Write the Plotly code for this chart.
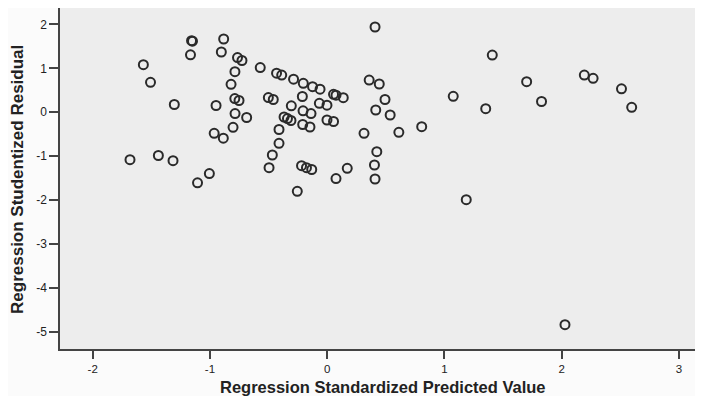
import plotly.graph_objects as go

# Regression Standardized Predicted Value (x) vs Studentized Residual (y)
pred_values = [
    -1.682, -1.568, -1.507, -1.440, -1.315, -1.304, -1.157, -1.149, -1.166, -1.106,
    -1.005, -0.948, -0.964, -0.886, -0.883, -0.903, -0.765, -0.727, -0.787, -0.820,
    -0.788, -0.752, -0.786, -0.687, -0.803, -0.571, -0.432, -0.388, -0.287, -0.204,
    -0.125, -0.061, -0.212, -0.502, -0.460, -0.306, -0.206, -0.138, -0.067, -0.002,
    0.054, 0.075, 0.137, -0.368, -0.339, -0.309, -0.002, 0.054, -0.209, -0.147,
    -0.411, -0.411, -0.468, -0.496, -0.219, -0.177, -0.132, 0.075, 0.171, -0.255,
    0.408, 1.408, 0.358, 0.444, 0.493, 0.414, 0.537, 0.314, 0.611, 0.806,
    0.423, 0.403, 0.408, 1.075, 1.352, 1.701, 1.828, 2.193, 2.268, 2.510,
    2.597, 1.186, 2.028,
]
resid_values = [
    -1.083, 1.083, 0.682, -0.987, -1.106, 0.176, 1.630, 1.619, 1.309, -1.610,
    -1.398, 0.153, -0.481, -0.593, 1.669, 1.373, 1.247, 1.179, 0.923, 0.636,
    0.312, 0.267, -0.030, -0.121, -0.344, 1.019, 0.889, 0.848, 0.752, 0.659,
    0.581, 0.524, 0.358, 0.335, 0.290, 0.146, 0.032, -0.030, 0.203, 0.160,
    0.408, 0.388, 0.331, -0.109, -0.144, -0.189, -0.178, -0.212, -0.280, -0.337,
    -0.394, -0.709, -0.976, -1.265, -1.220, -1.265, -1.306, -1.512, -1.279, -1.803,
    1.943, 1.304, 0.734, 0.643, 0.290, 0.050, -0.064, -0.481, -0.458, -0.331,
    -0.901, -1.204, -1.523, 0.363, 0.080, 0.695, 0.244, 0.848, 0.773, 0.534,
    0.112, -1.995, -4.845,
]

x_ticks = [-2, -1, 0, 1, 2, 3]
x_tick_labels = ["-2", "-1", "0", "1", "2", "3"]
y_ticks = [-5, -4, -3, -2, -1, 0, 1, 2]
y_tick_labels = ["-5", "-4", "-3", "-2", "-1", "0", "1", "2"]

x_title = "Regression Standardized Predicted Value"
y_title = "Regression Studentized Residual"

fig = go.Figure()
fig.add_trace(go.Scatter(
    x=pred_values, y=resid_values, mode="markers",
    marker=dict(symbol="circle-open", size=9, color="#2a2a2a",
                line=dict(width=2, color="#2a2a2a")),
    showlegend=False,
))

fam = "Liberation Sans, Arial, sans-serif"
axis_font = dict(family=fam, size=11.5, color="#222222")

fig.update_layout(
    width=687, height=388,
    margin=dict(l=52, r=0, t=0, b=47),
    paper_bgcolor="#fbfbfb",
    plot_bgcolor="#ededed",
    xaxis=dict(
        range=[-2.279, 3.137], tickvals=x_ticks, ticktext=x_tick_labels,
        automargin=False,
        showgrid=False, zeroline=False, showline=True, linecolor="#444444",
        linewidth=1.5, mirror=True, ticks="outside", ticklen=8, tickwidth=2,
        tickcolor="#444444", tickfont=axis_font,
    ),
    yaxis=dict(
        range=[-5.399, 2.376], tickvals=y_ticks, ticktext=y_tick_labels,
        automargin=False,
        showgrid=False, zeroline=False, showline=True, linecolor="#444444",
        linewidth=1.5, ticks="outside", ticklen=9, tickwidth=2,
        tickcolor="#444444", tickfont=dict(family=fam, size=12, color="#222222"),
    ),
    annotations=[
        dict(text="<b>" + x_title + "</b>", xref="paper", yref="paper",
             x=0.5087, y=-0.1439, xanchor="center", yanchor="bottom",
             showarrow=False, font=dict(family=fam, size=16.5, color="#222222")),
        dict(text="<b>" + y_title + "</b>", xref="paper", yref="paper",
             x=-0.066, y=0.496, xanchor="center", yanchor="middle", textangle=-90,
             showarrow=False, font=dict(family=fam, size=17, color="#222222")),
    ],
)

fig.write_html("out.html")
